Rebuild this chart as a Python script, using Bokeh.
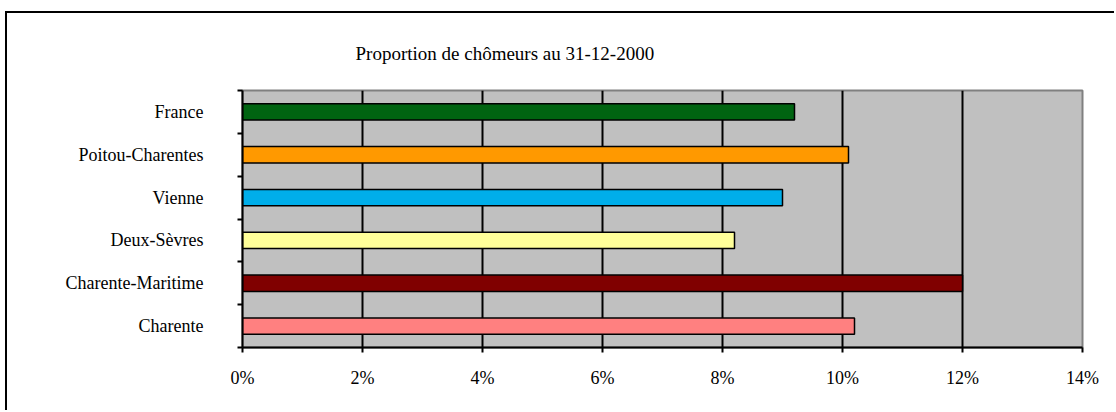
from bokeh.plotting import figure
from bokeh.models import Range1d, FixedTicker, ColumnDataSource
from bokeh.embed import file_html
from bokeh.resources import INLINE

# Share of unemployed people on 31-12-2000, in percent
regions = ["Charente", "Charente-Maritime", "Deux-Sèvres", "Vienne", "Poitou-Charentes", "France"]
rates = [10.2, 12.0, 8.2, 9.0, 10.1, 9.2]
bar_colors = ["#FF8080", "#800000", "#FFFF99", "#00AEEA", "#FF9900", "#006411"]
x_ticks = [0, 2, 4, 6, 8, 10, 12, 14]
x_tick_labels = ["0%", "2%", "4%", "6%", "8%", "10%", "12%", "14%"]
title_text = "Proportion de chômeurs au 31-12-2000"

FONT = "Liberation Serif"

positions = [i + 0.5 for i in range(len(regions))]
src = ColumnDataSource(dict(y=positions, right=rates, color=bar_colors, name=regions))

# the chart area frame (top and left edges) is a CSS shadow just outside the canvas
OX, OY = 7, 13
p = figure(width=1116 - OX, height=412 - OY, output_backend="svg", toolbar_location=None,
           x_range=Range1d(0, 14), y_range=Range1d(0, len(regions)),
           min_border_left=242 - OX, min_border_right=34,
           min_border_top=90 - OY, min_border_bottom=65,
           margin=(OY, 0, 0, OX),
           styles={"box-shadow": "-2px -2px 0px 0px black"})

p.background_fill_color = "#C0C0C0"
p.border_fill_color = "white"
p.outline_line_color = "#808080"
p.outline_line_width = 2

p.title.text = title_text
p.title.align = "left"
p.title.offset = 113
p.title.text_font = FONT
p.title.text_font_size = "19px"
p.title.text_font_style = "normal"
p.title.text_color = "black"
p.title.standoff = 54

p.hbar(y="y", left=0, right="right", height=0.38, fill_color="color",
       line_color="black", line_width=1.5, source=src)

# x axis
p.xaxis.ticker = FixedTicker(ticks=x_ticks)
p.xaxis.major_label_overrides = {t: l for t, l in zip(x_ticks, x_tick_labels)}
p.xaxis.major_tick_in = 0
p.xaxis.major_tick_out = 5
p.xaxis.minor_tick_line_color = None
p.xaxis.axis_line_color = "black"
p.xaxis.axis_line_width = 2
p.xaxis.major_tick_line_width = 2
p.xaxis.major_label_standoff = 15
p.xaxis.major_label_text_font = FONT
p.xaxis.major_label_text_font_size = "18px"
p.xaxis.major_label_text_color = "black"

# y axis: names at band centres, small ticks on band boundaries
p.yaxis.ticker = FixedTicker(ticks=positions, minor_ticks=list(range(len(regions) + 1)))
p.yaxis.major_label_overrides = {y: n for y, n in zip(positions, regions)}
p.yaxis.major_tick_in = 0
p.yaxis.major_tick_out = 0
p.yaxis.minor_tick_in = 0
p.yaxis.minor_tick_out = 5
p.yaxis.minor_tick_line_width = 2
p.yaxis.minor_tick_line_color = "black"
p.yaxis.axis_line_color = "black"
p.yaxis.axis_line_width = 2
p.yaxis.major_label_standoff = 34
p.yaxis.major_label_text_font = FONT
p.yaxis.major_label_text_font_size = "18px"
p.yaxis.major_label_text_color = "black"

# vertical grid lines inside the frame
p.xgrid.ticker = FixedTicker(ticks=x_ticks[1:-1])
p.xgrid.grid_line_color = "black"
p.xgrid.grid_line_width = 2
p.ygrid.grid_line_color = None

open("out.html", "w").write(file_html(p, INLINE))
